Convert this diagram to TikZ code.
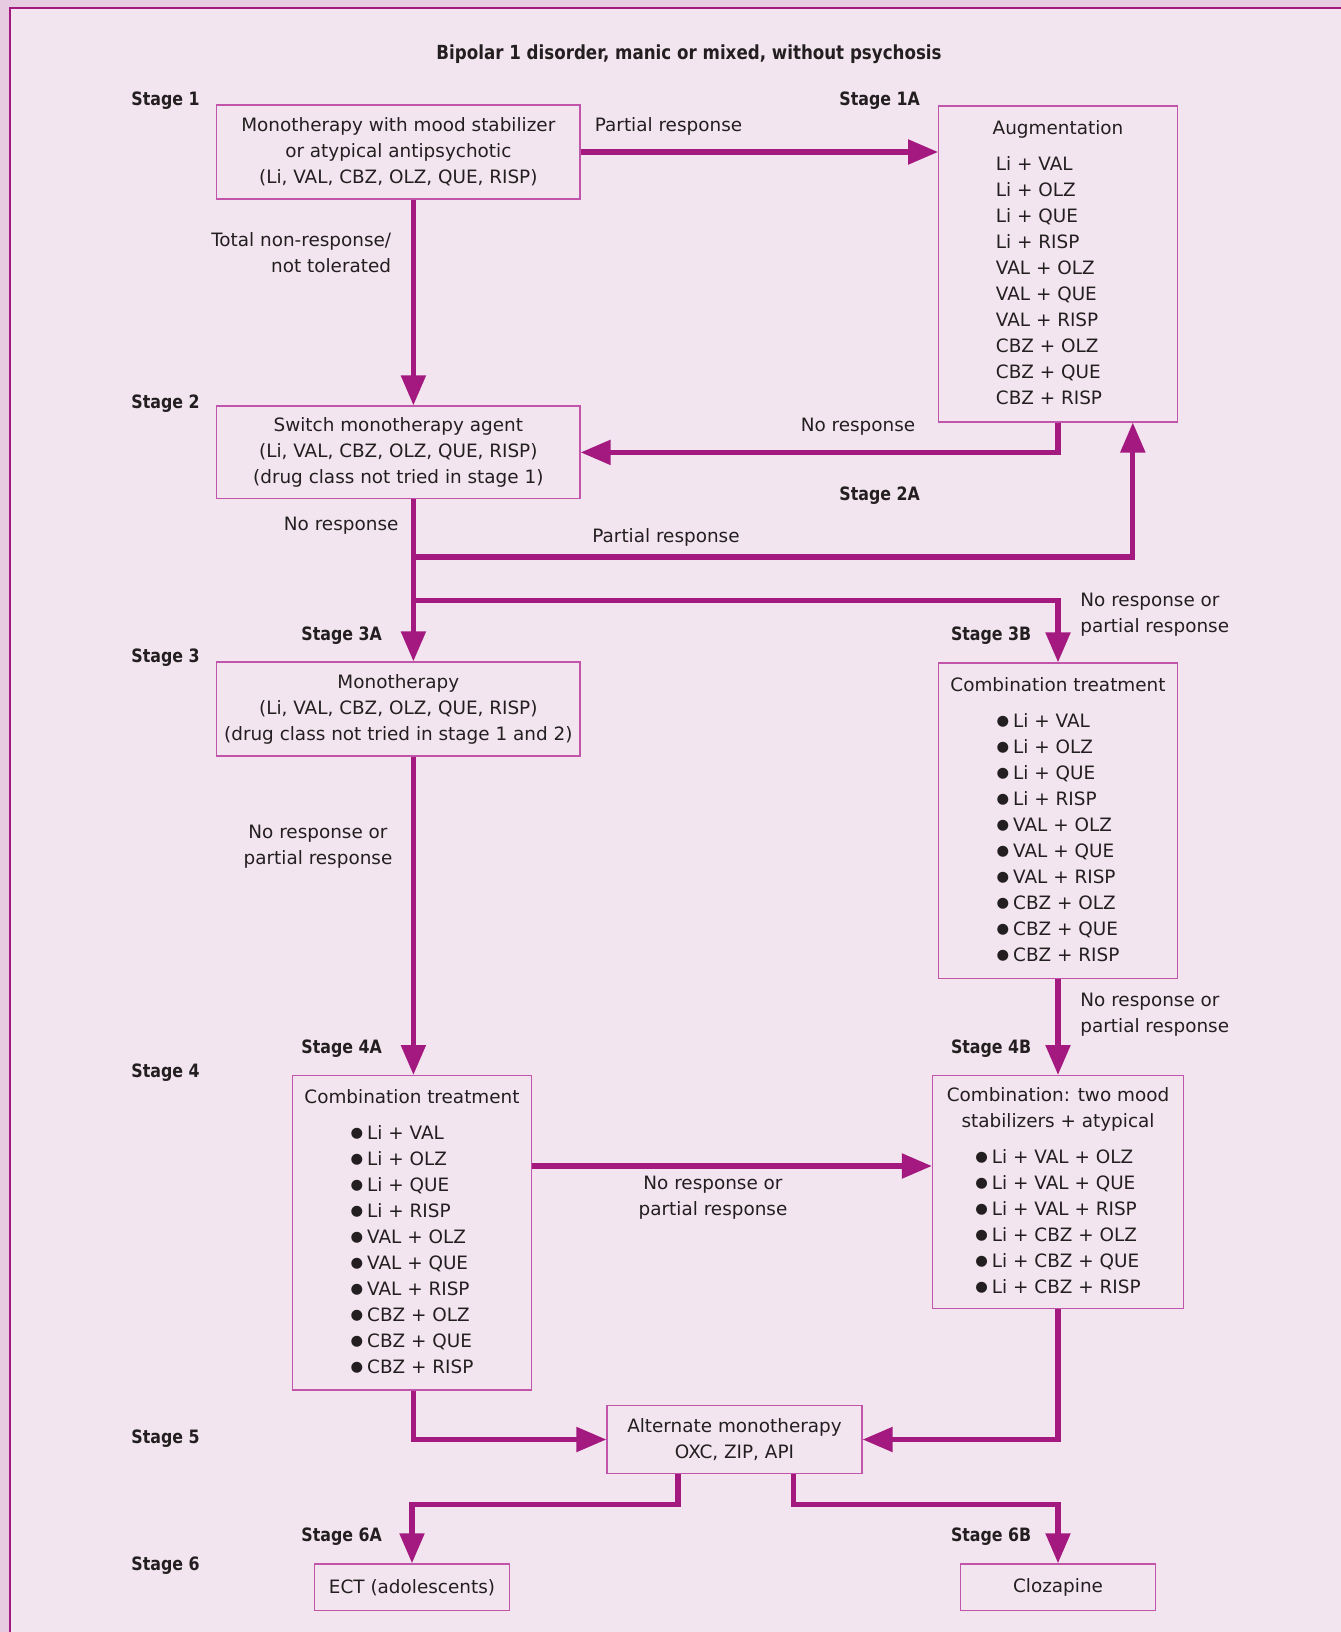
\documentclass[tikz,border=0pt]{standalone}
\usepackage{fontspec}
\setmainfont{DejaVu Sans}
\newfontfamily\stagefont[FakeStretch=0.86]{DejaVu Sans}
\usetikzlibrary{arrows.meta}
\definecolor{bandpink}{HTML}{E6CBE1}
\definecolor{panelpink}{HTML}{F3E5EF}
\definecolor{flowpurple}{HTML}{A3197F}
\definecolor{boxline}{HTML}{C155AA}
\definecolor{inktext}{HTML}{231F20}
\newcommand{\bodyfont}{\fontsize{9.2}{13}\selectfont}
\newcommand{\bul}{\raisebox{1pt}{\fontsize{7.2}{13}\selectfont ●}\kern2pt}
\newcommand{\pairlist}[1]{#1Li + VAL\\#1Li + OLZ\\#1Li + QUE\\#1Li + RISP\\#1VAL + OLZ\\#1VAL + QUE\\#1VAL + RISP\\#1CBZ + OLZ\\#1CBZ + QUE\\#1CBZ + RISP}
\newcommand{\boxlist}[2]{\begin{tabular}{@{}c@{}}#1\\[5pt]\begin{tabular}{@{}l@{}}#2\end{tabular}\end{tabular}}
\tikzset{
  box/.style={draw=boxline, line width=0.6pt, fill=panelpink, align=center, inner sep=0pt, font=\bodyfont},
  stagelbl/.style={anchor=west, inner sep=0pt, font=\stagefont\bfseries\fontsize{9.2}{13}\selectfont},
  note/.style={inner sep=0pt, font=\bodyfont},
  flow/.style={draw=flowpurple, line width=2.6pt, -{Triangle[length=15pt,width=12pt]}},
}

\begin{document}
\begin{tikzpicture}[x=0.5pt, y=-0.5pt, text=inktext]
  \useasboundingbox (0,0) rectangle (1340,1632);
  \fill[bandpink] (-2,-2) rectangle (1344,1636);
  \fill[panelpink] (10,8) rectangle (1344,1636);
  \draw[flowpurple, line width=1pt] (10,1636) -- (10,8) -- (1344,8);

  \node[stagelbl, anchor=center, font=\stagefont\bfseries\fontsize{9.7}{13}\selectfont] (title) at (689,54)
    {Bipolar 1 disorder, manic or mixed, without psychosis};

  % stages down the left
  \node[stagelbl] (s1) at (131,101) {Stage 1};
  \node[stagelbl] (s2) at (131,404) {Stage 2};
  \node[stagelbl] (s3) at (131,658) {Stage 3};
  \node[stagelbl] (s4) at (131,1073) {Stage 4};
  \node[stagelbl] (s5) at (131,1439) {Stage 5};
  \node[stagelbl] (s6) at (131,1566) {Stage 6};
  \node[stagelbl] (s1a) at (839,101) {Stage 1A};
  \node[stagelbl] (s2a) at (839,495.6) {Stage 2A};
  \node[stagelbl] (s3a) at (301,636) {Stage 3A};
  \node[stagelbl] (s3b) at (950.6,636) {Stage 3B};
  \node[stagelbl] (s4a) at (301,1048.5) {Stage 4A};
  \node[stagelbl] (s4b) at (950.6,1048.5) {Stage 4B};
  \node[stagelbl] (s6a) at (301,1537) {Stage 6A};
  \node[stagelbl] (s6b) at (950.6,1537) {Stage 6B};

  % boxes
  \node[box, minimum width=181.7pt, minimum height=47pt] (mono1) at (398.3,152)
    {Monotherapy with mood stabilizer\\or atypical antipsychotic\\(Li, VAL, CBZ, OLZ, QUE, RISP)};
  \node[box, minimum width=119.3pt, minimum height=157.9pt] (aug) at (1058,264)
    {\boxlist{Augmentation}{\pairlist{}\hspace*{9pt}}};
  \node[box, minimum width=181.7pt, minimum height=46.4pt] (switch) at (398.3,452.4)
    {Switch monotherapy agent\\(Li, VAL, CBZ, OLZ, QUE, RISP)\\(drug class not tried in stage 1)};
  \node[box, minimum width=181.7pt, minimum height=47pt] (mono3) at (398.3,709)
    {Monotherapy\\(Li, VAL, CBZ, OLZ, QUE, RISP)\\(drug class not tried in stage 1 and 2)};
  \node[box, minimum width=119.3pt, minimum height=157.9pt] (combo3) at (1058,820.9)
    {\boxlist{Combination treatment}{\pairlist{\bul}}};
  \node[box, minimum width=119.2pt, minimum height=157.2pt] (combo4) at (412,1232.8)
    {\boxlist{Combination treatment}{\pairlist{\bul}}};
  \node[box, minimum width=125.5pt, minimum height=116.6pt] (combo4b) at (1058,1192.2)
    {\boxlist{Combination: two mood\\stabilizers + atypical}{\bul Li + VAL + OLZ\\\bul Li + VAL + QUE\\\bul Li + VAL + RISP\\\bul Li + CBZ + OLZ\\\bul Li + CBZ + QUE\\\bul Li + CBZ + RISP}};
  \node[box, minimum width=127.5pt, minimum height=33.9pt] (alt) at (734.5,1439.5)
    {Alternate monotherapy\\OXC, ZIP, API};
  \node[box, minimum width=97.3pt, minimum height=23.4pt] (ect) at (412,1587.3) {ECT (adolescents)};
  \node[box, minimum width=97.3pt, minimum height=23.4pt] (cloz) at (1058,1587.3) {Clozapine};

  % turning points
  \coordinate (spine) at (413.4,0);
  \coordinate (upx) at (1132.8,0);
  \coordinate (forkA) at (413.4,557);
  \coordinate (forkB) at (413.4,600.8);
  \coordinate (mid4) at (0,1166);
  \coordinate (splitL) at (678,1504.5);
  \coordinate (splitR) at (793.4,1504.5);

  % connectors
  \draw[flow] (mono1.east) -- (mono1.east -| aug.west);
  \draw[flow] (mono1.south -| spine) -- (switch.north -| spine);
  \draw[flow] (aug.south) |- (switch.east);
  \draw[flow] (switch.south -| spine) -- (mono3.north -| spine);
  \draw[flow] (forkA) -| (upx |- aug.south);
  \draw[flow] (forkB) -| (combo3.north);
  \draw[flow] (mono3.south -| spine) -- (combo4.north -| spine);
  \draw[flow] (combo3.south) -- (combo4b.north);
  \draw[flow] (combo4.east |- mid4) -- (combo4b.west |- mid4);
  \draw[flow] (combo4.south -| spine) |- (alt.west);
  \draw[flow] (combo4b.south) |- (alt.east);
  \draw[flow] (alt.south -| splitL) -- (splitL) -| (ect.north);
  \draw[flow] (alt.south -| splitR) -- (splitR) -| (cloz.north);

  % connector labels
  \node[note, anchor=west] (l1) at (594.5,126) {Partial response};
  \node[note, anchor=east, align=right] (l2) at (391.5,252.5) {Total non-response/\\not tolerated};
  \node[note] (l3) at (858,427) {No response};
  \node[note, anchor=east] (l4) at (398.8,525.8) {No response};
  \node[note] (l5) at (666,537) {Partial response};
  \node[note, anchor=west, align=left] (l6) at (1080,615) {No response or\\partial response};
  \node[note, align=center] (l7) at (318,847) {No response or\\partial response};
  \node[note, anchor=west, align=left] (l8) at (1080,1014.6) {No response or\\partial response};
  \node[note, align=center] (l9) at (713,1198) {No response or\\partial response};
\end{tikzpicture}
\end{document}
